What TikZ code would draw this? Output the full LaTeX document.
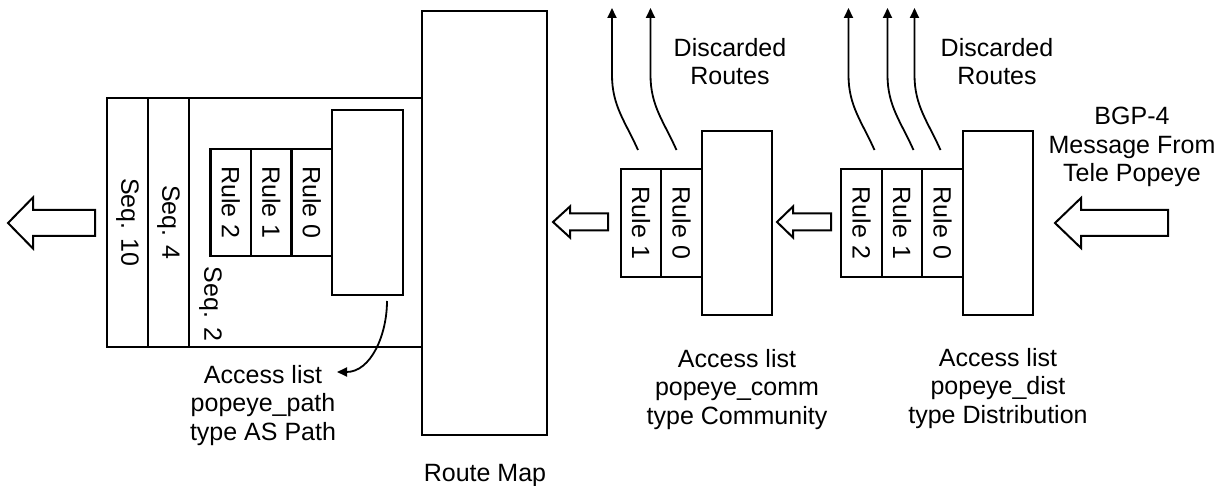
\documentclass[tikz,border=0pt]{standalone}
\usepackage{fontspec}
\setmainfont{Liberation Sans}
\usepackage{graphicx}
\usetikzlibrary{positioning}
\usetikzlibrary{arrows.meta}
\tikzstyle{box} = [draw, line width=2.2pt, outer sep=0pt, inner sep=0pt]
\tikzstyle{rulebox} = [box, minimum width=40.5pt, minimum height=108pt]
\tikzstyle{listbox} = [box, minimum width=70.5pt, minimum height=184pt]
\tikzstyle{seqbox} = [box, minimum width=41pt, minimum height=249pt]
\tikzstyle{txt} = [align=center, inner sep=0pt, anchor=north]
\tikzstyle{arrow} = [line width=1.8pt, -{Triangle[length=10pt,width=9pt]}]
\newcommand{\hollowarrow}[6]{\draw[line width=2pt, line join=miter] (#1,#2) -- ++(#3,#4) -- ++(0,#5-#4) -- ++(#6-#3,0) -- ++(0,-2*#5) -- ++(#3-#6,0) -- ++(0,#5-#4) -- cycle;}

\begin{document}
\begin{tikzpicture}[x=1pt,y=1pt,every node/.style={font=\fontsize{25}{28.5}\selectfont}]
\useasboundingbox (0,0) rectangle (1219,485);
\node[box, minimum width=125pt, minimum height=424pt] (routemap) at (484.5,262) {};
\node[txt] (rmlabel) at (485,21) {Route Map};
\node[box, minimum width=233pt, minimum height=249pt] (seq2) at (305.5,262.5) {};
\node[seqbox, left=0pt of seq2] (seq4) {\rotatebox{-90}{Seq. 4}};
\node[seqbox, left=0pt of seq4] (seq10) {\rotatebox{-90}{Seq. 10}};
\node (seq2lbl) at (210.5,181) {\rotatebox{-90}{Seq. 2}};
\node[listbox, minimum width=71pt, minimum height=185pt] (pathbox) at (367.5,282.5) {};
\node[rulebox, minimum height=107pt, left=0pt of pathbox] (p0) {\rotatebox{-90}{Rule 0}};
\node[rulebox, minimum height=107pt, left=0pt of p0] (p1) {\rotatebox{-90}{Rule 1}};
\node[rulebox, minimum height=107pt, left=0pt of p1] (p2) {\rotatebox{-90}{Rule 2}};
\node[txt] (pathlist) at (263,120) {Access list\\popeye\_path\\type AS Path};
\coordinate (pathtip) at (337,113);
\draw[arrow] ([shift={(19.5,-6)}]pathbox.south) to[out=-90,in=0] (pathtip);
\node[listbox] (commbox) at (737,262) {};
\node[rulebox, left=0pt of commbox] (c0) {\rotatebox{-90}{Rule 0}};
\node[rulebox, left=0pt of c0] (c1) {\rotatebox{-90}{Rule 1}};
\node[txt] (commlist) at (737,136) {Access list\\popeye\_comm\\type Community};
\node[txt] (disc1) at (730,447) {Discarded\\Routes};
\draw[arrow] ([shift={(-3,19)}]c1.north) to[out=114,in=-90] ++(-26,75) -- ++(0,67);
\draw[arrow] ([shift={(-5,19)}]c0.north) to[out=114,in=-90] ++(-26,75) -- ++(0,67);
\node[listbox] (distbox) at (998,262) {};
\node[rulebox, left=0pt of distbox] (d0) {\rotatebox{-90}{Rule 0}};
\node[rulebox, left=0pt of d0] (d1) {\rotatebox{-90}{Rule 1}};
\node[rulebox, left=0pt of d1] (d2) {\rotatebox{-90}{Rule 2}};
\node[txt] (distlist) at (998,137) {Access list\\popeye\_dist\\type Distribution};
\node[txt] (disc2) at (997,447) {Discarded\\Routes};
\draw[arrow] ([shift={(13,19)}]d2.north) to[out=114,in=-90] ++(-26,75) -- ++(0,67);
\draw[arrow] ([shift={(11.5,19)}]d1.north) to[out=114,in=-90] ++(-26,75) -- ++(0,67);
\draw[arrow] ([shift={(-2,19)}]d0.north) to[out=114,in=-90] ++(-26,75) -- ++(0,67);
\node[txt] (bgp) at (1132,378) {BGP-4\\Message From\\Tele Popeye};
\hollowarrow{8}{262}{25}{25.5}{13}{87}
\hollowarrow{553}{263}{17}{15.5}{8.5}{55}
\hollowarrow{777}{263}{16}{15.5}{8.5}{54}
\hollowarrow{1055}{262}{26}{25}{13}{113}
\end{tikzpicture}
\end{document}
